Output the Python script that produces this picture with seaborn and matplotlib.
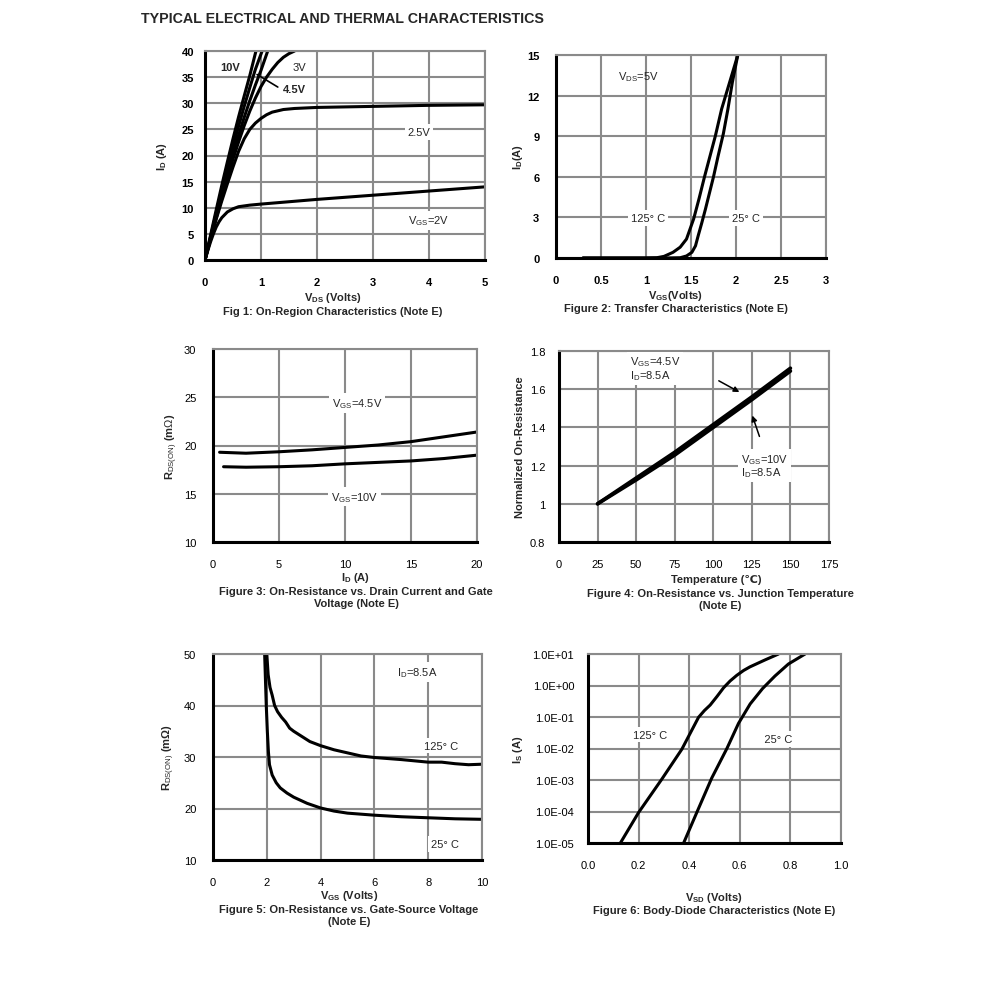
import matplotlib
matplotlib.use("Agg")
import matplotlib.pyplot as plt
import numpy as np
import pandas as pd
import seaborn as sns

# ---- data ----
# Fig 1: ID vs VDS for several VGS
vds_10v = [0, 0.1, 0.2, 0.3, 0.4, 0.5, 0.6, 0.7, 0.8, 0.91]
id_10v = [0, 4.8, 9.6, 14.3, 18.8, 23.2, 27.4, 31.4, 35.3, 40]
vds_6v = [0, 0.1, 0.2, 0.3, 0.4, 0.5, 0.6, 0.7, 0.8, 0.9, 1.02]
id_6v = [0, 4.5, 9, 13.4, 17.6, 21.7, 25.6, 29.4, 33, 36.5, 40]
vds_45v = [0, 0.1, 0.2, 0.3, 0.4, 0.5, 0.6, 0.7, 0.8, 0.9, 1.0, 1.12]
id_45v = [0, 4.3, 8.5, 12.6, 16.5, 20.3, 23.9, 27.3, 30.5, 33.5, 36.3, 40]
vds_3v = [0, 0.1, 0.2, 0.3, 0.4, 0.5, 0.6, 0.7, 0.8, 0.9, 1.0, 1.1, 1.2, 1.3, 1.4, 1.5, 1.6]
id_3v = [0, 4.1, 8, 11.9, 15.6, 19.3, 22.6, 25.7, 28.5, 31, 33.2, 35, 36.5, 37.8, 38.8, 39.5, 40]
vds_25v = [0, 0.1, 0.2, 0.3, 0.4, 0.5, 0.6, 0.7, 0.8, 0.9, 1.0, 1.1, 1.2, 1.4, 1.6, 2, 3, 4, 5]
id_25v = [0, 4, 7.8, 11.3, 14.6, 17.8, 20.8, 23.2, 25, 26.2, 27.1, 27.8, 28.3, 28.8, 29.0,
          29.2, 29.4, 29.6, 29.7]
vds_2v = [0, 0.05, 0.1, 0.15, 0.2, 0.25, 0.3, 0.4, 0.5, 0.6, 0.8, 1, 2, 3, 4, 5]
id_2v = [0, 1.8, 3.5, 5, 6.3, 7.3, 8.1, 9.2, 9.8, 10.2, 10.5, 10.7, 11.6, 12.4, 13.2, 14]

# Fig 2: transfer characteristics
vgs_25c = [0.3, 1.2, 1.38, 1.45, 1.51, 1.55, 1.58, 1.62, 1.66, 1.69, 1.75, 1.8, 1.86,
           1.91, 1.96, 2.02]
id_25c = [0, 0, 0.02, 0.15, 0.42, 0.9, 1.65, 2.6, 3.6, 4.4, 6, 7.5, 9.2, 11, 13, 15]
vgs_125c = [0.3, 1.0, 1.12, 1.2, 1.3, 1.38, 1.45, 1.53, 1.59, 1.65, 1.71, 1.77, 1.84,
            1.93, 2.02]
id_125c = [0, 0, 0.02, 0.12, 0.42, 0.8, 1.4, 2.9, 4.4, 6, 7.5, 9, 11, 13, 15]

# Fig 3: RDS(on) vs ID
id_f3_45 = [0.5, 2.5, 5, 7.5, 10, 12.5, 15, 17.5, 20]
rds_f3_45 = [19.3, 19.2, 19.35, 19.55, 19.8, 20.05, 20.4, 20.9, 21.4]
id_f3_10 = [0.8, 2.5, 5, 7.5, 10, 12.5, 15, 17.5, 20]
rds_f3_10 = [17.8, 17.75, 17.8, 17.9, 18.1, 18.25, 18.4, 18.65, 19.0]

# Fig 4: normalized RDS(on) vs temperature
temp = [25, 50, 75, 100, 125, 150]
norm_45 = [1.0, 1.135, 1.27, 1.415, 1.56, 1.71]
norm_10 = [1.0, 1.125, 1.255, 1.40, 1.545, 1.695]

# Fig 5: RDS(on) vs VGS
vgs_f5_25 = [1.92, 1.95, 1.98, 2.02, 2.06, 2.1, 2.2, 2.35, 2.5, 2.75, 3.0, 3.5, 4.0, 4.5,
             5.0, 6, 7, 8, 9, 10]
rds_f5_25 = [50, 45, 40, 35, 31, 28.5, 26.5, 25, 24, 23, 22.2, 21, 20.1, 19.5, 19.1,
             18.7, 18.4, 18.2, 18.0, 17.9]
vgs_f5_125 = [2.0, 2.05, 2.12, 2.2, 2.29, 2.4, 2.55, 2.7, 2.85, 3.0, 3.3, 3.6, 4.0, 4.5,
              5, 5.5, 6, 7, 8, 8.5, 9, 9.5, 10]
rds_f5_125 = [50, 46, 43.5, 42, 40, 38.8, 37.7, 36.8, 35.6, 35, 34, 33, 32.2, 31.4,
              30.8, 30.2, 29.9, 29.5, 29.0, 29.0, 28.7, 28.5, 28.6]

# Fig 6: body diode
vsd_125 = [0.128, 0.2, 0.292, 0.371, 0.437, 0.46, 0.483, 0.51, 0.536, 0.562, 0.588,
           0.615, 0.64, 0.7, 0.753]
is_125 = [1e-5, 9.3e-5, 1.07e-3, 9.5e-3, 9.8e-2, 0.16, 0.24, 0.45, 0.85, 1.4, 2.1,
          3.0, 3.9, 6.5, 10]
vsd_25 = [0.378, 0.43, 0.489, 0.549, 0.595, 0.641, 0.69, 0.739, 0.792, 0.858]
is_25 = [1e-5, 9.3e-5, 1.15e-3, 1e-2, 6.3e-2, 0.26, 0.8, 2.0, 4.8, 10]

# ---- style ----
sns.set_theme(style="white")
plt.rcParams['font.family'] = ['Liberation Sans', 'DejaVu Sans']
plt.rcParams['mathtext.fontset'] = 'custom'
plt.rcParams['mathtext.rm'] = 'Liberation Sans'
plt.rcParams['mathtext.it'] = 'Liberation Sans:italic'
plt.rcParams['mathtext.bf'] = 'Liberation Sans:bold'
plt.rcParams['lines.solid_joinstyle'] = 'round'
plt.rcParams['lines.solid_capstyle'] = 'round'

W, H = 991, 1003
fig = plt.figure(figsize=(W / 100, H / 100), dpi=100)
GRID = '#8a8a8a'
LW = 2.2


def make_ax(l, r, t, b):
    ax = fig.add_axes([l / W, 1 - b / H, (r - l) / W, (b - t) / H])
    ax.grid(True, color=GRID, lw=1.5)
    ax.set_axisbelow(True)
    for s in ['left', 'bottom']:
        ax.spines[s].set_color('black')
        ax.spines[s].set_linewidth(2.2)
    for s in ['top', 'right']:
        ax.spines[s].set_color(GRID)
        ax.spines[s].set_linewidth(1.5)
    ax.tick_params(length=0, labelsize=8, colors='black')
    return ax


def curve(ax, x, y, lw=LW):
    sns.lineplot(x=x, y=y, ax=ax, color='black', lw=lw, estimator=None,
                 sort=False, legend=False)


def lbl(ax, x, y, s, bold=False, box=True, ha='center', size=8):
    kw = dict(ha=ha, va='center', fontsize=size,
              fontweight='bold' if bold else 'normal', zorder=5)
    if box:
        kw['bbox'] = dict(facecolor='white', edgecolor='none', pad=2)
    ax.text(x, y, s, **kw)


def ylab(ax, s, xpos):
    ax.set_ylabel(s, fontsize=8, fontweight='bold')
    ax.yaxis.set_label_coords(xpos, 0.5)


def bold_ticks(ax):
    for t in ax.get_xticklabels() + ax.get_yticklabels():
        t.set_fontweight('bold')


def caption(x, y, s):
    fig.text(x / W, 1 - y / H, s, ha='center', va='center', fontsize=8,
             fontweight='bold', linespacing=1.25)


fig.text(141 / W, 1 - 19 / H, 'TYPICAL ELECTRICAL AND THERMAL CHARACTERISTICS',
         fontsize=10.3, fontweight='bold', va='center', ha='left')

# ---- Fig 1 ----
ax = make_ax(205, 485, 52, 261)
for x, y in [(vds_10v, id_10v), (vds_6v, id_6v), (vds_45v, id_45v),
             (vds_3v, id_3v), (vds_25v, id_25v), (vds_2v, id_2v)]:
    curve(ax, x, y)
ax.set_xlim(0, 5)
ax.set_ylim(0, 40)
ax.set_xticks(range(0, 6))
ax.set_yticks(range(0, 41, 5))
ax.tick_params(axis='x', pad=12)
ax.tick_params(axis='y', pad=8)
bold_ticks(ax)
ylab(ax, r'$\mathbf{I_D}$ (A)', -0.13)
lbl(ax, 0.45, 36.9, '10V', bold=True)
lbl(ax, 1.68, 36.9, '3V', box=True)
ax.plot([0.93, 1.3], [35.5, 33.1], color='black', lw=1.2)
lbl(ax, 1.6, 32.8, '4.5V', bold=True, box=False)
lbl(ax, 3.82, 24.5, '2.5V')
lbl(ax, 4.0, 7.6, r'V$_{\rm GS}$=2V')
caption(333, 298, r'$\mathbf{V_{DS}}$ (Volts)')
caption(333, 312, 'Fig 1: On-Region Characteristics (Note E)')

# ---- Fig 2 ----
ax = make_ax(556, 826, 56, 259)
curve(ax, vgs_125c, id_125c)
curve(ax, vgs_25c, id_25c)
ax.set_xlim(0, 3)
ax.set_ylim(0, 15)
ax.set_xticks([0, 0.5, 1, 1.5, 2, 2.5, 3])
ax.set_xticklabels(['0', '0.5', '1', '1.5', '2', '2.5', '3'])
ax.set_yticks(range(0, 16, 3))
ax.tick_params(axis='x', pad=12)
ax.tick_params(axis='y', pad=12)
bold_ticks(ax)
ylab(ax, r'$\mathbf{I_D}$(A)', -0.115)
lbl(ax, 0.91, 13.45, r'V$_{\rm DS}$=5V', box=False)
lbl(ax, 1.02, 2.95, '125° C')
lbl(ax, 2.11, 2.95, '25° C')
caption(676, 296, r'$\mathbf{V_{GS}}$(Volts)')
caption(676, 309, 'Figure 2: Transfer Characteristics (Note E)')

# ---- Fig 3 ----
ax = make_ax(213, 477, 350, 543)
curve(ax, id_f3_45, rds_f3_45)
curve(ax, id_f3_10, rds_f3_10)
ax.set_xlim(0, 20)
ax.set_ylim(10, 30)
ax.set_xticks(range(0, 21, 5))
ax.set_yticks(range(10, 31, 5))
ax.tick_params(axis='x', pad=12)
ax.tick_params(axis='y', pad=12)
ylab(ax, r'R$_{\rm DS(ON)}$ (m$\Omega$)', -0.125)
lbl(ax, 10.9, 24.4, r'V$_{\rm GS}$=4.5V')
lbl(ax, 10.7, 14.7, r'V$_{\rm GS}$=10V')
caption(356, 578, r'$\mathbf{I_D}$ (A)')
caption(356, 598, 'Figure 3: On-Resistance vs. Drain Current and Gate\nVoltage (Note E)')

# ---- Fig 4 ----
ax = make_ax(559, 829, 352, 543)
curve(ax, temp, norm_45, lw=2.6)
curve(ax, temp, norm_10, lw=2.6)
ax.set_xlim(0, 175)
ax.set_ylim(0.8, 1.8)
ax.set_xticks(range(0, 176, 25))
ax.set_yticks([0.8, 1.0, 1.2, 1.4, 1.6, 1.8])
ax.set_yticklabels(['0.8', '1', '1.2', '1.4', '1.6', '1.8'])
ax.tick_params(axis='x', pad=12)
ax.tick_params(axis='y', pad=10)
ylab(ax, 'Normalized On-Resistance', -0.126)
ax.text(46, 1.71, 'V$_{\\rm GS}$=4.5V\nI$_{\\rm D}$=8.5A', ha='left', va='center',
        fontsize=8, linespacing=1.0, zorder=5,
        bbox=dict(facecolor='white', edgecolor='none', pad=2))
ax.text(118, 1.2, 'V$_{\\rm GS}$=10V\nI$_{\\rm D}$=8.5A', ha='left', va='center',
        fontsize=8, linespacing=1.0, zorder=5,
        bbox=dict(facecolor='white', edgecolor='none', pad=2))
ax.annotate('', xy=(118.5, 1.578), xytext=(102, 1.651),
            arrowprops=dict(arrowstyle='-|>', color='black', lw=1.1,
                            mutation_scale=8))
ax.annotate('', xy=(124.7, 1.476), xytext=(130.5, 1.339),
            arrowprops=dict(arrowstyle='-|>', color='black', lw=1.1,
                            mutation_scale=8))
caption(716, 580, 'Temperature (℃)')
caption(720, 600, 'Figure 4: On-Resistance vs. Junction Temperature\n(Note E)')

# ---- Fig 5 ----
ax = make_ax(213, 482, 655, 861)
curve(ax, vgs_f5_125, rds_f5_125)
curve(ax, vgs_f5_25, rds_f5_25)
ax.set_xlim(0, 10)
ax.set_ylim(10, 50)
ax.set_xticks(range(0, 11, 2))
ax.set_yticks(range(10, 51, 10))
ax.tick_params(axis='x', pad=12)
ax.tick_params(axis='y', pad=12)
ylab(ax, r'R$_{\rm DS(ON)}$ (m$\mathbf{\Omega}$)', -0.134)
lbl(ax, 7.6, 46.5, r'I$_{\rm D}$=8.5A')
lbl(ax, 8.49, 32.2, '125° C')
lbl(ax, 8.61, 13.1, '25° C')
caption(349, 896, r'$\mathbf{V_{GS}}$ (Volts)')
caption(349, 916, 'Figure 5: On-Resistance vs. Gate-Source Voltage\n(Note E)')

# ---- Fig 6 ----
ax = make_ax(588, 841, 655, 844)
curve(ax, vsd_125, is_125)
curve(ax, vsd_25, is_25)
ax.set_yscale('log')
ax.set_xlim(0, 1)
ax.set_ylim(1e-5, 10)
ax.set_xticks(np.arange(0, 1.01, 0.2))
ax.set_xticklabels(['0.0', '0.2', '0.4', '0.6', '0.8', '1.0'])
yt = [1e-5, 1e-4, 1e-3, 1e-2, 1e-1, 1, 10]
ax.set_yticks(yt)
ax.set_yticklabels(['1.0E-05', '1.0E-04', '1.0E-03', '1.0E-02', '1.0E-01',
                    '1.0E+00', '1.0E+01'])
ax.minorticks_off()
ax.tick_params(axis='x', pad=12)
ax.tick_params(axis='y', pad=10)
ylab(ax, r'$\mathbf{I_S}$ (A)', -0.249)
lbl(ax, 0.246, 10 ** -1.56, '125° C')
ax.text(0.771, 10 ** -1.70, '   25° C      ', ha='center', va='center', fontsize=8,
        zorder=5, bbox=dict(facecolor='white', edgecolor='none', pad=2))
caption(714, 898, r'$\mathbf{V_{SD}}$ (Volts)')
caption(714, 911, 'Figure 6: Body-Diode Characteristics (Note E)')

fig.savefig('out.png', dpi=100)
